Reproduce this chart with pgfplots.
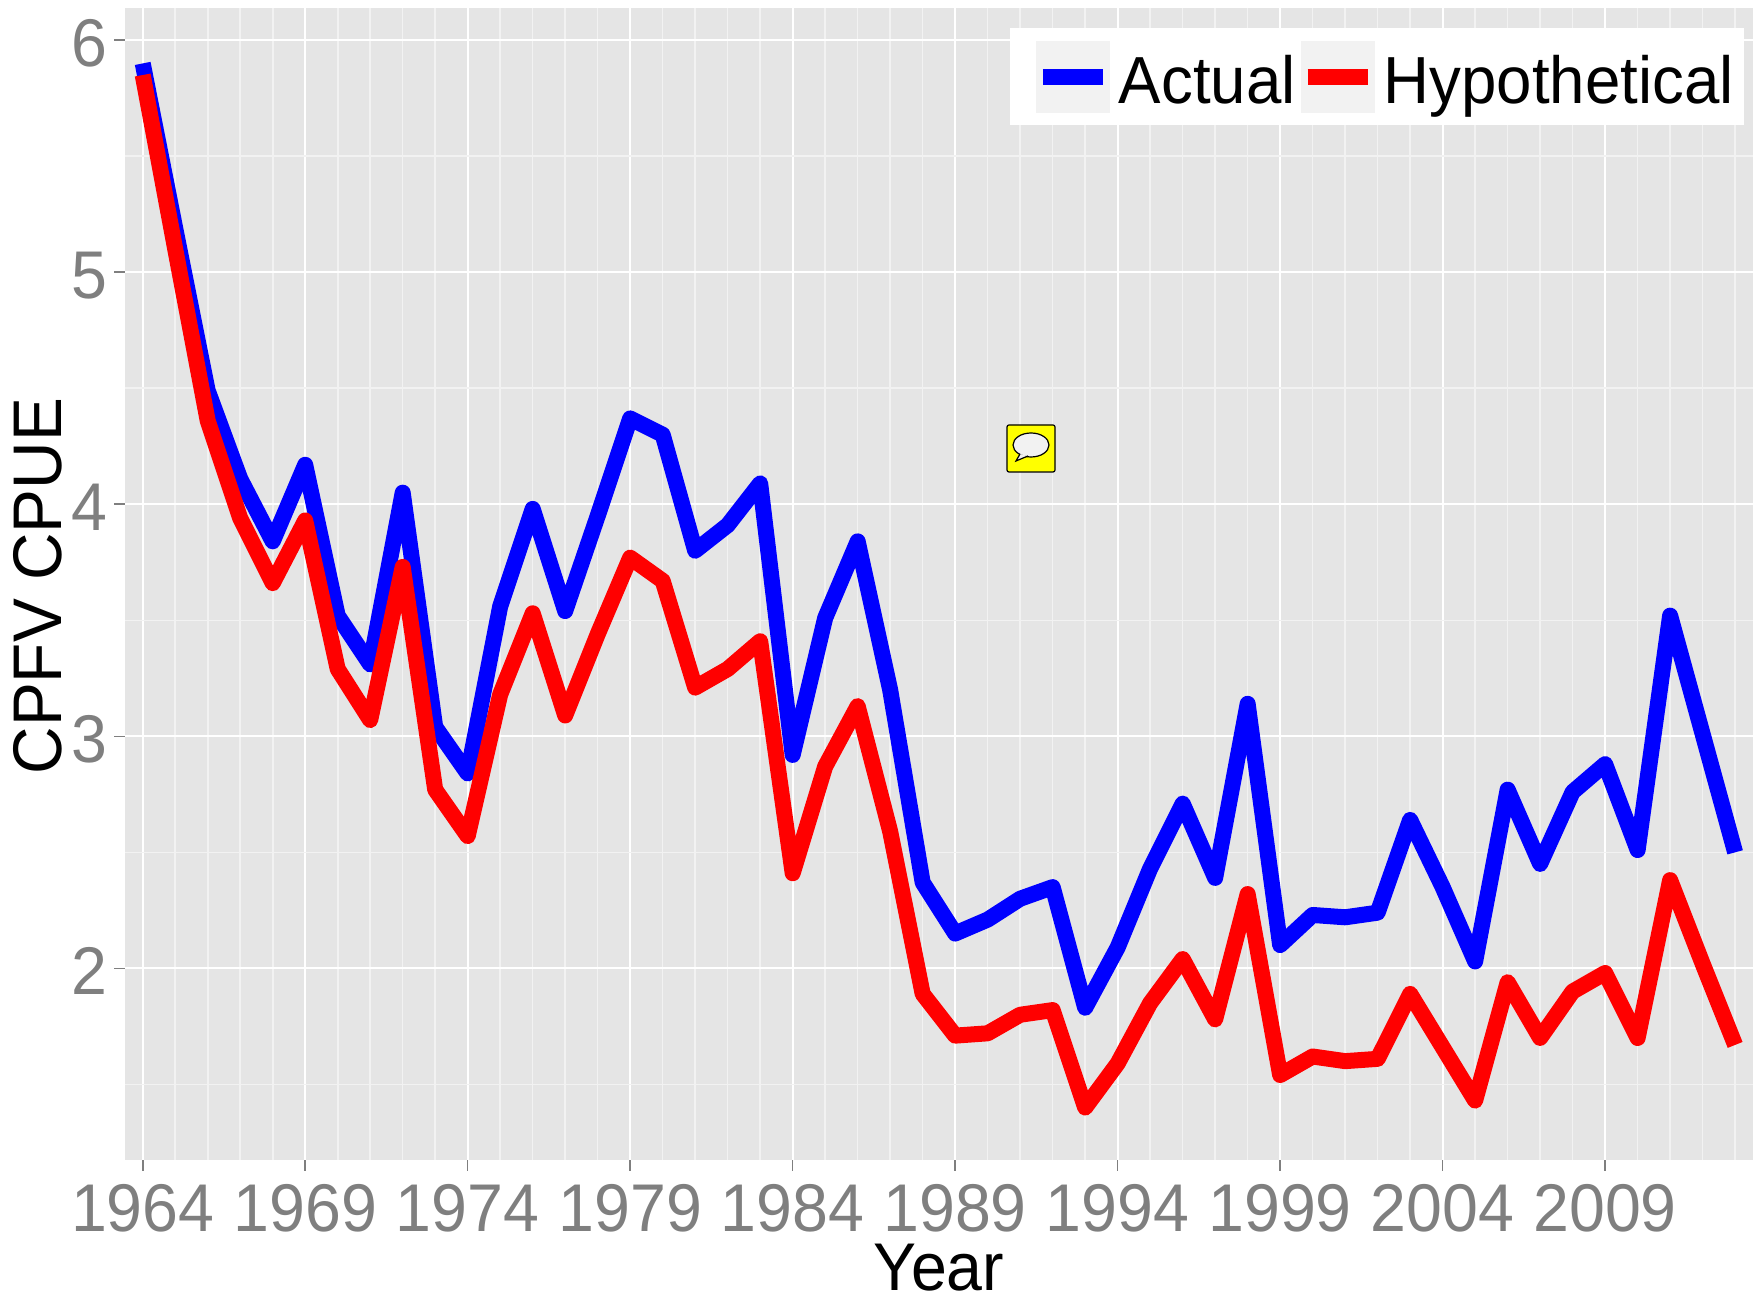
\documentclass[border=0pt]{standalone}
\usepackage{fontspec}
\setmainfont{Liberation Sans}[FakeStretch=0.955]
\usepackage{graphicx}
\usepackage{pgfplots}
\pgfplotsset{compat=1.18}
\definecolor{panel}{HTML}{E5E5E5}
\definecolor{minorg}{HTML}{F2F2F2}
\definecolor{tickg}{HTML}{7F7F7F}
\definecolor{iconyellow}{RGB}{255,255,0}
\pgfplotstableread{
year actual hypo
1964 5.90 5.85
1965 5.19 5.10
1966 4.49 4.36
1967 4.11 3.94
1968 3.84 3.66
1969 4.17 3.93
1970 3.52 3.29
1971 3.31 3.07
1972 4.05 3.73
1973 3.04 2.77
1974 2.84 2.57
1975 3.56 3.18
1976 3.98 3.53
1977 3.54 3.09
1978 3.95 3.44
1979 4.37 3.77
1980 4.30 3.67
1981 3.80 3.21
1982 3.91 3.29
1983 4.09 3.41
1984 2.92 2.41
1985 3.51 2.87
1986 3.84 3.13
1987 3.20 2.59
1988 2.37 1.89
1989 2.15 1.71
1990 2.21 1.72
1991 2.30 1.80
1992 2.35 1.82
1993 1.83 1.40
1994 2.09 1.59
1995 2.43 1.85
1996 2.71 2.04
1997 2.39 1.78
1998 3.14 2.32
1999 2.10 1.54
2000 2.23 1.62
2001 2.22 1.60
2002 2.24 1.61
2003 2.64 1.89
2004 2.35 1.66
2005 2.03 1.43
2006 2.77 1.94
2007 2.45 1.70
2008 2.76 1.90
2009 2.88 1.98
2010 2.51 1.70
2011 3.52 2.38
2012 3.01 2.02
2013 2.50 1.67
}\datatable
\begin{document}
\begin{tikzpicture}[x=0.5pt,y=0.5pt]
\path[use as bounding box] (0,0) rectangle (1753,1307);
\begin{axis}[
  at={(62.5pt,73.5pt)}, anchor=south west,
  scale only axis, width=814pt, height=576pt,
  xmin=1963.455, xmax=2013.55, ymin=1.174, ymax=6.139,
  axis background/.style={fill=panel},
  axis line style={draw=none},
  xtick={1964,1969,1974,1979,1984,1989,1994,1999,2004,2009},
  xticklabels={1964,1969,1974,1979,1984,1989,1994,1999,2004,2009},
  ytick={2,3,4,5,6},
  yticklabels={2,3,4,5,6},
  minor xtick={1965,1966,1967,1968,1970,1971,1972,1973,1975,1976,1977,1978,1980,1981,1982,1983,1985,1986,1987,1988,1990,1991,1992,1993,1995,1996,1997,1998,2000,2001,2002,2003,2005,2006,2007,2008,2010,2011,2012,2013},
  minor ytick={1.5,2.5,3.5,4.5,5.5},
  grid=both,
  major grid style={white,line width=1pt},
  minor grid style={minorg,line width=0.8pt},
  tick align=outside, tick pos=left,
  major tick length=5.5pt, minor tick length=0pt,
  tick style={tickg,line width=0.8pt},
  xticklabel style={font=\fontsize{33.75pt}{40pt}\selectfont,text=tickg,yshift=-3pt},
  yticklabel style={font=\fontsize{33.75pt}{40pt}\selectfont,text=tickg,xshift=0pt,yshift=-1.5pt},
  xlabel={Year},
  ylabel={\scalebox{1.02}[1.02]{CPFV CPUE}},
  xlabel style={font=\fontsize{33.75pt}{40pt}\selectfont,text=black,yshift=1pt},
  ylabel style={font=\fontsize{33.75pt}{40pt}\selectfont,text=black,yshift=-2.5pt,xshift=-1.1pt},
  legend columns=2,
  legend style={at={(1,1)},anchor=north east,xshift=-4.5pt,yshift=-10pt,draw=none,fill=white,
     inner xsep=0pt,inner ysep=6.2pt,
     font=\fontsize{33.3pt}{40pt}\selectfont,
     nodes={inner sep=0pt}},
  legend cell align=left,
]
\addplot[blue,line width=8pt,line join=round,
  legend image code/.code={
    \fill[minorg,draw=none] (0pt,-18pt) rectangle (37pt,18pt);
    \draw[blue,line width=8pt] (3.5pt,0pt) -- (33.5pt,0pt);
    \path[draw=none,fill=none] (-12.9pt,0pt) -- (41.5pt,0pt);
  }] table[x=year,y=actual]{\datatable};
\addlegendentry{\raisebox{-4.5pt}{Actual}}
\addplot[red,line width=8pt,line join=round,
  legend image code/.code={
    \fill[minorg,draw=none] (0pt,-18pt) rectangle (37pt,18pt);
    \draw[red,line width=8pt] (3.5pt,0pt) -- (33.5pt,0pt);
    \path[draw=none,fill=none] (-2.5pt,0pt) -- (41.5pt,0pt);
  }] table[x=year,y=hypo]{\datatable};
\addlegendentry{\raisebox{-4.5pt}{Hypothetical\hspace{5pt}}}
\end{axis}
% comment icon
\draw[black,fill=iconyellow,line width=0.6pt,rounded corners=1pt] (1007,835) rectangle (1055,882);
\draw[black,fill=minorg,line width=0.6pt] (1031,862) ellipse (18 and 12);
\draw[black,fill=minorg,line width=0.6pt] (1020,853) -- (1016,846) -- (1028,851);
\end{tikzpicture}
\end{document}
